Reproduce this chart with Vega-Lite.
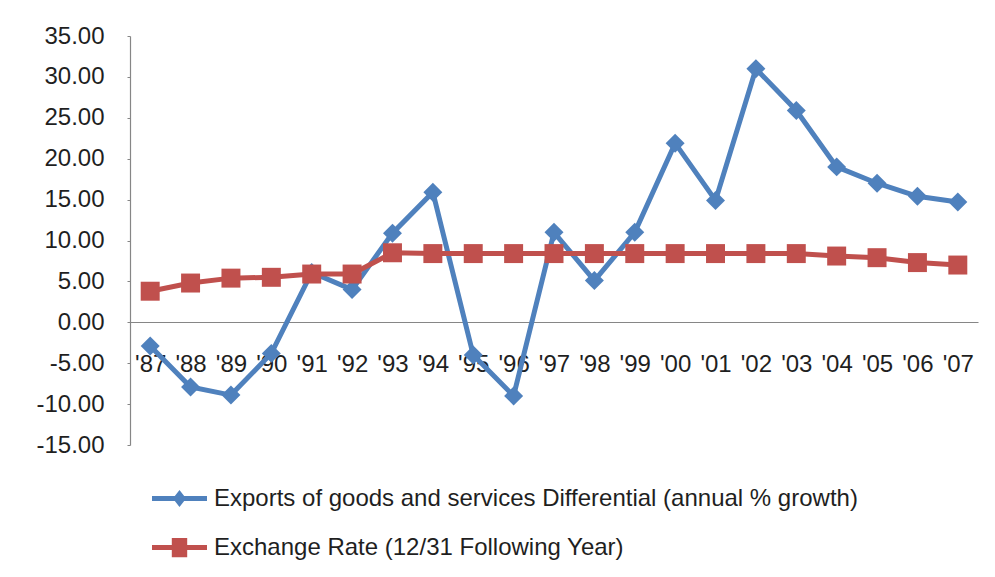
{
  "$schema": "https://vega.github.io/schema/vega-lite/v6.json",
  "width": 848,
  "height": 409,
  "autosize": "none",
  "padding": {"left": 130, "top": 36, "right": 17, "bottom": 132},
  "background": "white",
  "config": {"view": {"stroke": null}, "font": "Liberation Sans"},
  "data": {
    "values": [
      {"year": "'87", "series": "Exports of goods and services Differential (annual % growth)", "value": -2.9},
      {"year": "'88", "series": "Exports of goods and services Differential (annual % growth)", "value": -7.9},
      {"year": "'89", "series": "Exports of goods and services Differential (annual % growth)", "value": -8.9},
      {"year": "'90", "series": "Exports of goods and services Differential (annual % growth)", "value": -3.8},
      {"year": "'91", "series": "Exports of goods and services Differential (annual % growth)", "value": 6.1},
      {"year": "'92", "series": "Exports of goods and services Differential (annual % growth)", "value": 4.0},
      {"year": "'93", "series": "Exports of goods and services Differential (annual % growth)", "value": 10.9},
      {"year": "'94", "series": "Exports of goods and services Differential (annual % growth)", "value": 15.9},
      {"year": "'95", "series": "Exports of goods and services Differential (annual % growth)", "value": -4.0},
      {"year": "'96", "series": "Exports of goods and services Differential (annual % growth)", "value": -9.0},
      {"year": "'97", "series": "Exports of goods and services Differential (annual % growth)", "value": 11.0},
      {"year": "'98", "series": "Exports of goods and services Differential (annual % growth)", "value": 5.1},
      {"year": "'99", "series": "Exports of goods and services Differential (annual % growth)", "value": 11.0},
      {"year": "'00", "series": "Exports of goods and services Differential (annual % growth)", "value": 21.9},
      {"year": "'01", "series": "Exports of goods and services Differential (annual % growth)", "value": 14.9},
      {"year": "'02", "series": "Exports of goods and services Differential (annual % growth)", "value": 31.0},
      {"year": "'03", "series": "Exports of goods and services Differential (annual % growth)", "value": 25.9},
      {"year": "'04", "series": "Exports of goods and services Differential (annual % growth)", "value": 19.0},
      {"year": "'05", "series": "Exports of goods and services Differential (annual % growth)", "value": 17.0},
      {"year": "'06", "series": "Exports of goods and services Differential (annual % growth)", "value": 15.4},
      {"year": "'07", "series": "Exports of goods and services Differential (annual % growth)", "value": 14.7},
      {"year": "'87", "series": "Exchange Rate (12/31 Following Year)", "value": 3.8},
      {"year": "'88", "series": "Exchange Rate (12/31 Following Year)", "value": 4.8},
      {"year": "'89", "series": "Exchange Rate (12/31 Following Year)", "value": 5.4},
      {"year": "'90", "series": "Exchange Rate (12/31 Following Year)", "value": 5.5},
      {"year": "'91", "series": "Exchange Rate (12/31 Following Year)", "value": 5.9},
      {"year": "'92", "series": "Exchange Rate (12/31 Following Year)", "value": 5.9},
      {"year": "'93", "series": "Exchange Rate (12/31 Following Year)", "value": 8.5},
      {"year": "'94", "series": "Exchange Rate (12/31 Following Year)", "value": 8.4},
      {"year": "'95", "series": "Exchange Rate (12/31 Following Year)", "value": 8.4},
      {"year": "'96", "series": "Exchange Rate (12/31 Following Year)", "value": 8.4},
      {"year": "'97", "series": "Exchange Rate (12/31 Following Year)", "value": 8.4},
      {"year": "'98", "series": "Exchange Rate (12/31 Following Year)", "value": 8.4},
      {"year": "'99", "series": "Exchange Rate (12/31 Following Year)", "value": 8.4},
      {"year": "'00", "series": "Exchange Rate (12/31 Following Year)", "value": 8.4},
      {"year": "'01", "series": "Exchange Rate (12/31 Following Year)", "value": 8.4},
      {"year": "'02", "series": "Exchange Rate (12/31 Following Year)", "value": 8.4},
      {"year": "'03", "series": "Exchange Rate (12/31 Following Year)", "value": 8.4},
      {"year": "'04", "series": "Exchange Rate (12/31 Following Year)", "value": 8.1},
      {"year": "'05", "series": "Exchange Rate (12/31 Following Year)", "value": 7.9},
      {"year": "'06", "series": "Exchange Rate (12/31 Following Year)", "value": 7.3},
      {"year": "'07", "series": "Exchange Rate (12/31 Following Year)", "value": 7.0}
    ]
  },
  "encoding": {
    "x": {
      "field": "year",
      "type": "ordinal",
      "sort": null,
      "scale": {"type": "point", "padding": 0.5},
      "axis": {
        "title": null,
        "orient": "bottom",
        "offset": -123,
        "domainColor": "#868686",
        "domainWidth": 1.2,
        "ticks": false,
        "grid": false,
        "labelAngle": 0,
        "labelFontSize": 24,
        "labelColor": "#1f1f1f",
        "labelPadding": 30
      }
    },
    "y": {
      "field": "value",
      "type": "quantitative",
      "scale": {"domain": [-15, 35], "nice": false, "zero": false},
      "axis": {
        "title": null,
        "values": [-15, -10, -5, 0, 5, 10, 15, 20, 25, 30, 35],
        "labelExpr": "(datum.value < 0 ? '-' : '') + format(abs(datum.value), '.2f')",
        "grid": false,
        "domainColor": "#868686",
        "domainWidth": 1.2,
        "tickColor": "#868686",
        "tickSize": 3,
        "labelPadding": 23,
        "labelFontSize": 24,
        "labelColor": "#1f1f1f"
      }
    }
  },
  "layer": [
    {
      "mark": {"type": "line", "strokeWidth": 5},
      "encoding": {
        "color": {
          "field": "series",
          "type": "nominal",
          "scale": {
            "domain": ["Exports of goods and services Differential (annual % growth)", "Exchange Rate (12/31 Following Year)"],
            "range": ["#4F81BD", "#C0504D"]
          },
          "legend": {
            "orient": "none",
            "legendX": 22,
            "legendY": 435,
            "direction": "vertical",
            "title": null,
            "padding": 0,
            "labelFontSize": 24,
            "labelColor": "#1f1f1f",
            "labelLimit": 0,
            "labelOffset": 7,
            "rowPadding": 9,
            "symbolSize": 3025,
            "symbolStrokeWidth": 0,
            "encode": {
              "symbols": {
                "update": {
                  "shape": {"signal": "datum.value === 'Exchange Rate (12/31 Following Year)' ? 'M-1,-0.09H1V0.09H-1Z M-0.28,-0.35H0.28V0.35H-0.28Z' : 'M-1,-0.09H1V0.09H-1Z M0,-0.31L0.24,0L0,0.31L-0.24,0Z'"},
                  "fill": {"signal": "datum.value === 'Exchange Rate (12/31 Following Year)' ? '#C0504D' : '#4F81BD'"},
                  "strokeWidth": {"value": 0},
                  "opacity": {"value": 1}
                }
              }
            }
          }
        }
      }
    },
    {
      "transform": [{"filter": "datum.series === 'Exports of goods and services Differential (annual % growth)'"}],
      "mark": {"type": "point", "shape": "diamond", "filled": true, "size": 360, "color": "#4F81BD", "opacity": 1}
    },
    {
      "transform": [{"filter": "datum.series === 'Exchange Rate (12/31 Following Year)'"}],
      "mark": {"type": "point", "shape": "square", "filled": true, "size": 360, "color": "#C0504D", "opacity": 1}
    }
  ]
}
